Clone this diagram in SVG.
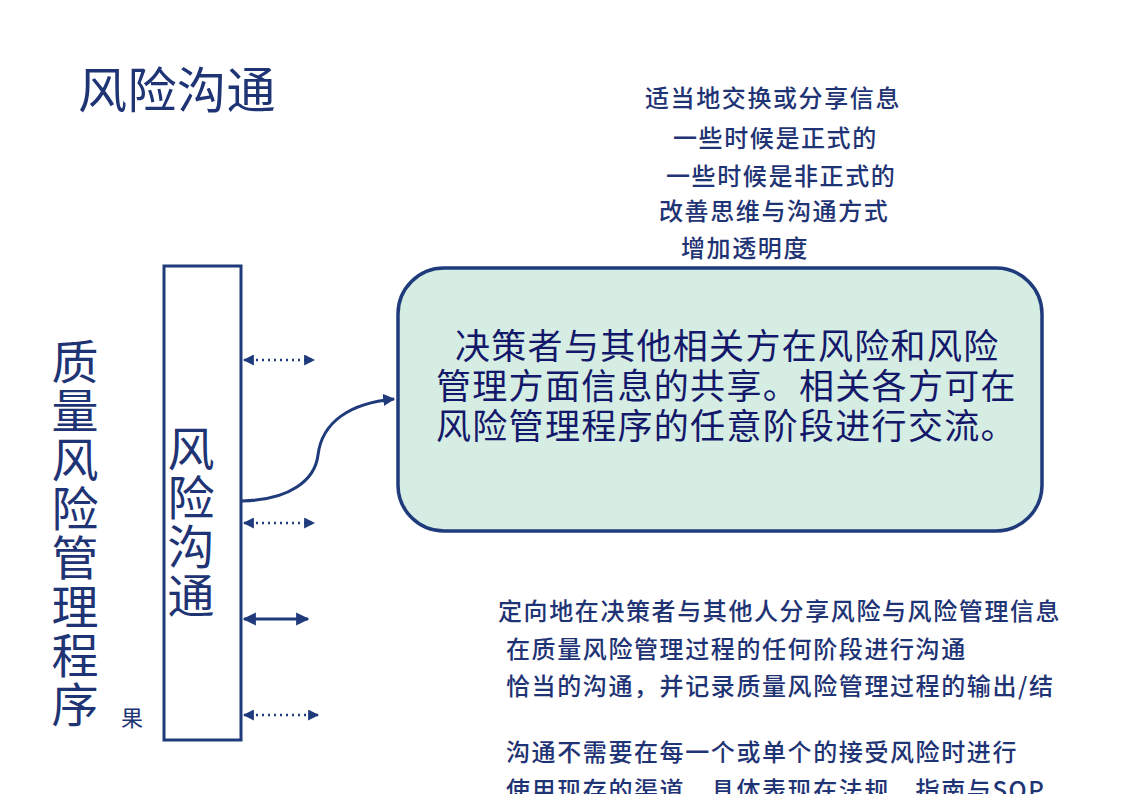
<svg xmlns="http://www.w3.org/2000/svg" width="1123" height="794" viewBox="0 0 1123 794">
<style>
text{font-family:"Noto Sans CJK SC","Liberation Sans",sans-serif;fill:#1F3474;}
.t{font-size:24px;letter-spacing:1.6px;font-weight:500;}
.big{font-size:49px;letter-spacing:0.5px;}
.vert{font-size:47px;writing-mode:vertical-rl;text-orientation:upright;letter-spacing:2px;}
.box{font-size:35px;fill:#14186A;letter-spacing:1.3px;}
.ln{stroke:#1F3B7B;stroke-width:3;fill:none;}
.dot{stroke:#1F3B7B;stroke-width:2.5;stroke-dasharray:2 4;fill:none;}
</style>
<defs>
<marker id="ah" viewBox="0 0 10 10" refX="9" refY="5" markerWidth="4.4" markerHeight="4.4" orient="auto-start-reverse" markerUnits="strokeWidth">
<path d="M0,0 L10,5 L0,10 z" fill="#1F3B7B"/>
</marker>
<marker id="ah2" viewBox="0 0 10 10" refX="9" refY="5" markerWidth="4" markerHeight="4" orient="auto" markerUnits="strokeWidth">
<path d="M0,0 L10,5 L0,10 z" fill="#1F3B7B"/>
</marker>
</defs>
<rect width="1123" height="794" fill="#FFFFFF"/>
<g id="title"><text class="big" x="78" y="108">风险沟通</text></g>
<g id="qrm-label">
<text class="vert" x="75" y="338">质量风险管理程序</text>
<text x="132" y="726" font-size="22" text-anchor="middle">果</text>
</g>
<g id="comm-bar">
<rect x="164" y="266" width="77" height="474" fill="#FFFFFF" stroke="#1F3B7B" stroke-width="3"/>
<text class="vert" x="191" y="425">风险沟通</text>
</g>
<g id="definition">
<rect x="398" y="268" width="644" height="263" rx="46" ry="46" fill="#D5EDE2" stroke="#1F3B7B" stroke-width="3.5"/>
<text class="box"><tspan x="455" y="359">决策者与其他相关方在风险和风险</tspan><tspan x="436" y="399">管理方面信息的共享。相关各方可在</tspan><tspan x="436" y="439">风险管理程序的任意阶段进行交流。</tspan></text>
</g>
<g id="top-notes">
<text class="t" x="645" y="107">适当地交换或分享信息</text>
<text class="t" x="673" y="147">一些时候是正式的</text>
<text class="t" x="666" y="185">一些时候是非正式的</text>
<text class="t" x="659" y="220">改善思维与沟通方式</text>
<text class="t" x="681" y="257">增加透明度</text>
</g>
<g id="bottom-notes">
<text class="t" x="498" y="620">定向地在决策者与其他人分享风险与风险管理信息</text>
<text class="t" x="506" y="658">在质量风险管理过程的任何阶段进行沟通</text>
<text class="t" x="506" y="695">恰当的沟通，并记录质量风险管理过程的输出/结</text>
<text class="t" x="506" y="761">沟通不需要在每一个或单个的接受风险时进行</text>
<text class="t" x="506" y="799">使用现存的渠道，具体表现在法规、指南与SOP</text>
</g>
<g id="connectors">
<line class="dot" x1="244" y1="360" x2="314" y2="360" marker-start="url(#ah)" marker-end="url(#ah)"/>
<line class="dot" x1="244" y1="523" x2="314" y2="523" marker-start="url(#ah)" marker-end="url(#ah)"/>
<line class="ln" x1="244" y1="619" x2="308" y2="619" marker-start="url(#ah)" marker-end="url(#ah)" stroke-width="2.5"/>
<line class="dot" x1="244" y1="715" x2="318" y2="715" marker-start="url(#ah)" marker-end="url(#ah)"/>
<path class="ln" d="M242,501 C290,500 315,480 318,455 C322,422 350,403 394,399" stroke-width="3.5" marker-end="url(#ah2)"/>
</g>
</svg>
